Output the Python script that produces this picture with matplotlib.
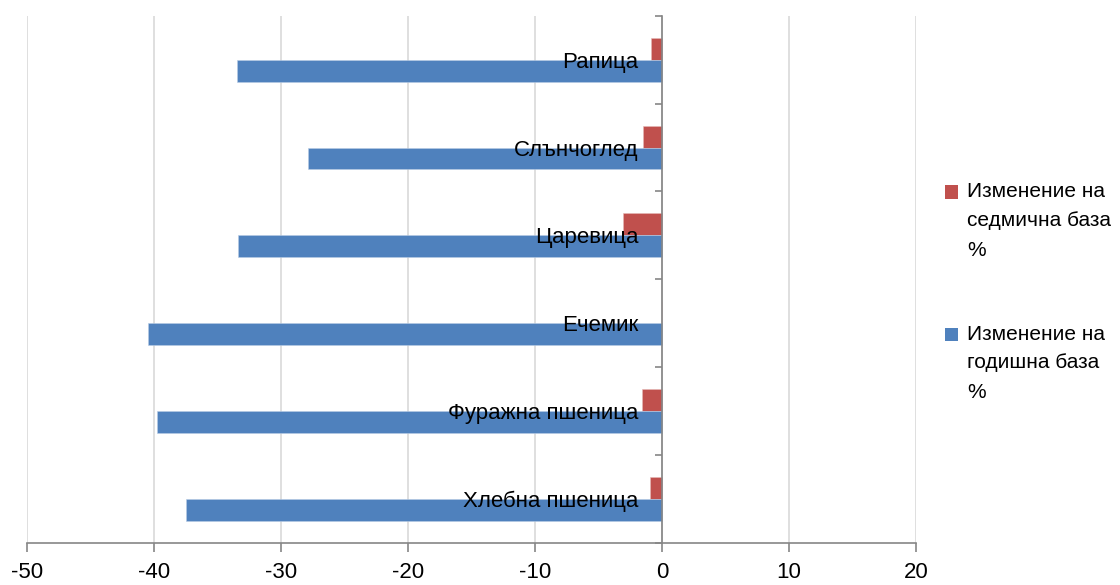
import matplotlib
matplotlib.use('Agg')
import matplotlib.pyplot as plt
from matplotlib import font_manager
from matplotlib.patches import Rectangle
from matplotlib.ticker import FixedLocator

installed = {f.name for f in font_manager.fontManager.ttflist}
FONT = 'Liberation Sans Narrow' if 'Liberation Sans Narrow' in installed else 'Liberation Sans'
plt.rcParams['font.family'] = [FONT, 'DejaVu Sans']

# data, bottom to top as on the chart
categories = ['Хлебна пшеница', 'Фуражна пшеница', 'Ечемик',
              'Царевица', 'Слънчоглед', 'Рапица']
weekly = [-0.97, -1.55, 0.0, -3.1, -1.5, -0.83]
annual = [-37.5, -39.76, -40.45, -33.4, -27.85, -33.5]
series_labels = ['Изменение на\nседмична база\n%',
                 'Изменение на\nгодишна база\n%']
x_ticks = [-50, -40, -30, -20, -10, 0, 10, 20]

RED = '#C0504D'
BLUE = '#4F81BD'
AXIS = '#868686'
GRID = '#D9D9D9'

fig = plt.figure(figsize=(11.2, 5.85), dpi=100)
ax = fig.add_axes([27 / 1120, 1 - 543 / 585, (916 - 27) / 1120, (543 - 15.7) / 585])

ypos = list(range(len(categories)))
h = 0.25
ax.barh([y + h / 2 for y in ypos], weekly, height=h, color=RED,
        edgecolor='#e6b9b8', linewidth=0.4, zorder=3)
ax.barh([y - h / 2 for y in ypos], annual, height=h, color=BLUE,
        edgecolor='#b9cde5', linewidth=0.4, zorder=3)

ax.set_xlim(-50, 20)
ax.set_ylim(-0.5, len(categories) - 0.5)
ax.set_xticks(x_ticks)
ax.set_xticklabels([str(t) for t in x_ticks])
ax.xaxis.grid(True, color=GRID, linewidth=1.2)
ax.set_axisbelow(True)
# category names sit on top of the bars
ax.yaxis.set_zorder(5)

ax.spines['top'].set_visible(False)
ax.spines['right'].set_visible(False)
ax.spines['left'].set_position(('data', 0))
for s in ('left', 'bottom'):
    ax.spines[s].set_color(AXIS)
    ax.spines[s].set_linewidth(1.2)
    ax.spines[s].set_zorder(4)

ax.set_yticks(ypos)
ax.set_yticklabels(categories)
ax.yaxis.set_minor_locator(FixedLocator([y - 0.5 for y in ypos] + [ypos[-1] + 0.5]))
ax.tick_params(axis='y', which='major', length=0, pad=17, labelsize=16)
ax.tick_params(axis='y', which='minor', length=5, width=1.2, color=AXIS, direction='out')
ax.tick_params(axis='x', which='major', length=6.5, width=1.2, color=AXIS,
               direction='out', pad=7, labelsize=16)

# legend drawn by hand so the marker sits on the first line
legend_colors = [RED, BLUE]
first_line_y = [192, 334]
for col, lab, y0 in zip(legend_colors, series_labels, first_line_y):
    fig.patches.append(Rectangle((945 / 1120, 1 - (y0 + 6.5) / 585), 13 / 1120, 13 / 585,
                                 transform=fig.transFigure, facecolor=col,
                                 edgecolor='none'))
    for i, line in enumerate(lab.split('\n')):
        fig.text(967 / 1120, 1 - (y0 + i * 29) / 585, line, fontsize=15,
                 ha='left', va='center')

fig.savefig('out.png', dpi=100)
